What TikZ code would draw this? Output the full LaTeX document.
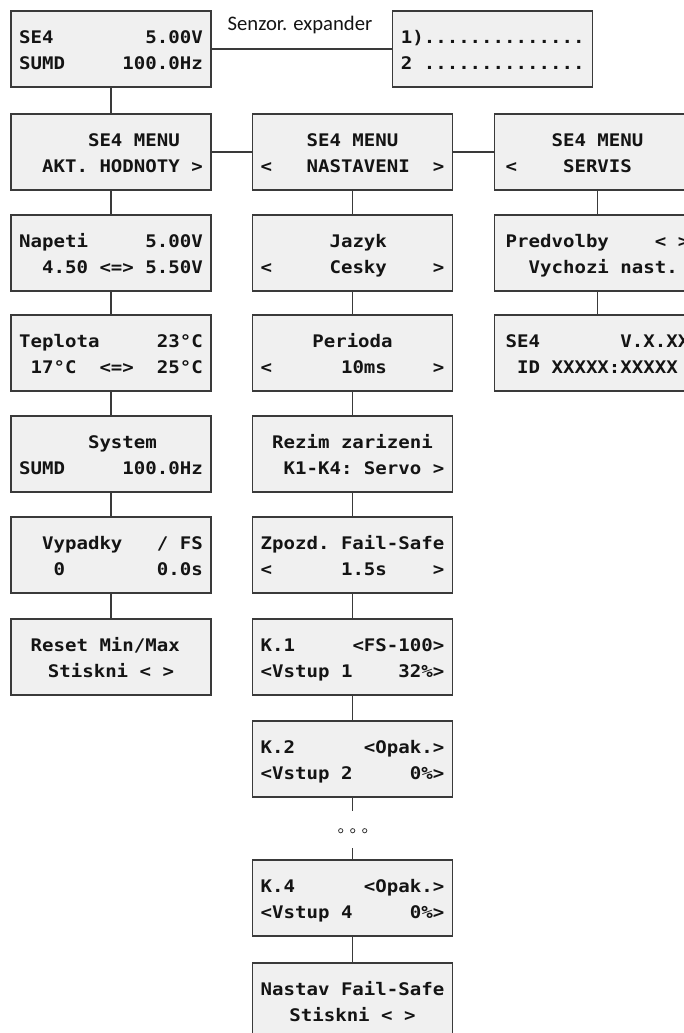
\documentclass[tikz,border=0pt]{standalone}
\usepackage{fontspec}
\newfontfamily\lcdfont[UprightFont={* Bold},FakeStretch=1.1]{DejaVu Sans Mono}
\newfontfamily\lblfont{Carlito}
\definecolor{boxfill}{HTML}{F0F0F0}
\definecolor{boxline}{HTML}{3A3A3A}
\definecolor{txt}{HTML}{141414}
\newlength\lcdw
\newcommand\lcdsel{\lcdfont\fontsize{13pt}{19.5pt}\selectfont
  \fontdimen2\font=\fontcharwd\font`0\relax
  \fontdimen3\font=0pt\relax\fontdimen4\font=0pt\relax
  \settowidth\lcdw{0000000000000000}}
\newcommand\C[1]{\makebox[\lcdw][c]{#1}}
\newcommand\lcd[2]{\lcdsel\raisebox{-1.7pt}[\height][\depth]{\vbox{%
  \hbox{\strut\makebox[\lcdw][l]{#1}}\hbox{\strut\makebox[\lcdw][l]{#2}}}}}
\tikzset{
  lcdbox/.style={draw=boxline, fill=boxfill, line width=1pt, inner sep=0pt,
    minimum width=150pt, minimum height=57pt, text=txt},
  widebox/.style={lcdbox, minimum width=154.5pt},
  conn/.style={draw=boxline, line width=0.8pt},
  dotc/.style={circle, draw=boxline, line width=0.6pt, inner sep=0pt, minimum size=3.2pt}
}
\begin{document}
\begin{tikzpicture}[x=0.75pt,y=-0.75pt]
\useasboundingbox (0,0) rectangle (684,1033);
\clip (0,0) rectangle (684,1033);
% top row
\node[lcdbox] (top) at (111,49) {\lcd{SE4~~~~~~~~5.00V}{SUMD~~~~~100.0Hz}};
\node[lcdbox] (exp) at (492.7,49) {\lcd{1)..............}{2~..............}};
\node[anchor=base, font=\lblfont\fontsize{15.5pt}{18pt}\selectfont, text=txt, inner sep=0pt] (lbl) at (300,30) {Senzor. expander};
% menu row
\node[lcdbox] (m1) at (111,152) {\lcd{~~~~~~SE4~MENU}{~~AKT.~HODNOTY~>}};
\node[lcdbox] (m2) at (352.5,152) {\lcd{~~~~SE4~MENU}{<~~~NASTAVENI~~>}};
\node[widebox] (m3) at (597.5,152) {\lcd{~~~~SE4~MENU}{<~~~~SERVIS}};
% column 1
\node[lcdbox] (nap) at (111,253) {\lcd{Napeti~~~~~5.00V}{~~4.50~<=>~5.50V}};
\node[lcdbox] (tep) at (111,353) {\lcd{Teplota~~~~~23°C}{~17°C~~<=>~~25°C}};
\node[lcdbox] (sys) at (111,454) {\lcd{~~~~~~System}{SUMD~~~~~100.0Hz}};
\node[lcdbox] (vyp) at (111,555) {\lcd{~~Vypadky~~~/~FS}{~~~0~~~~~~~~0.0s}};
\node[lcdbox] (res) at (111,657) {\lcd{~Reset~Min/Max}{\C{Stiskni~<~>}}};
% column 2
\node[lcdbox] (jaz) at (352.5,253) {\lcd{~~~~~~Jazyk}{<~~~~~Cesky~~~~>}};
\node[lcdbox] (per) at (352.5,353) {\lcd{\C{Perioda}}{<~~~~~~10ms~~~~>}};
\node[lcdbox] (rez) at (352.5,454) {\lcd{~Rezim~zarizeni}{~~K1-K4:~Servo~>}};
\node[lcdbox] (zpo) at (352.5,555) {\lcd{Zpozd.~Fail-Safe}{<~~~~~~1.5s~~~~>}};
\node[lcdbox] (k1) at (352.5,657) {\lcd{K.1~~~~~<FS-100>}{<Vstup~1~~~~32\%>}};
\node[lcdbox] (k2) at (352.5,759) {\lcd{K.2~~~~~~<Opak.>}{<Vstup~2~~~~~0\%>}};
\node[lcdbox] (k4) at (352.5,898) {\lcd{K.4~~~~~~<Opak.>}{<Vstup~4~~~~~0\%>}};
\node[lcdbox] (nas) at (352.5,1001) {\lcd{Nastav~Fail-Safe}{\C{Stiskni~<~>}}};
% column 3
\node[widebox] (pre) at (597.5,253) {\lcd{Predvolby~~~~<~>}{~~Vychozi~nast.}};
\node[widebox] (ver) at (597.5,353) {\lcd{SE4~~~~~~~V.X.XX}{~ID~XXXXX:XXXXX}};
% connectors
\draw[conn] (top.east) -- (exp.west);
\draw[conn] (top.south) -- (m1.north);
\draw[conn] (m1.east) -- (m2.west);
\draw[conn] (m2.east) -- (m3.west);
\draw[conn] (m1.south) -- (nap.north);
\draw[conn] (nap.south) -- (tep.north);
\draw[conn] (tep.south) -- (sys.north);
\draw[conn] (sys.south) -- (vyp.north);
\draw[conn] (vyp.south) -- (res.north);
\draw[conn] (m2.south) -- (jaz.north);
\draw[conn] (jaz.south) -- (per.north);
\draw[conn] (per.south) -- (rez.north);
\draw[conn] (rez.south) -- (zpo.north);
\draw[conn] (zpo.south) -- (k1.north);
\draw[conn] (k1.south) -- (k2.north);
\coordinate (dA) at (352.5,810.7);
\coordinate (dB) at (352.5,848);
\draw[conn] (k2.south) -- (dA);
\draw[conn] (dB) -- (k4.north);
\draw[conn] (k4.south) -- (nas.north);
\draw[conn] (m3.south) -- (pre.north);
\draw[conn] (pre.south) -- (ver.north);
% dots
\node[dotc] (d1) at (340.7,830.7) {};
\node[dotc] (d2) at (352.7,830.7) {};
\node[dotc] (d3) at (364.7,830.7) {};
\end{tikzpicture}
\end{document}
